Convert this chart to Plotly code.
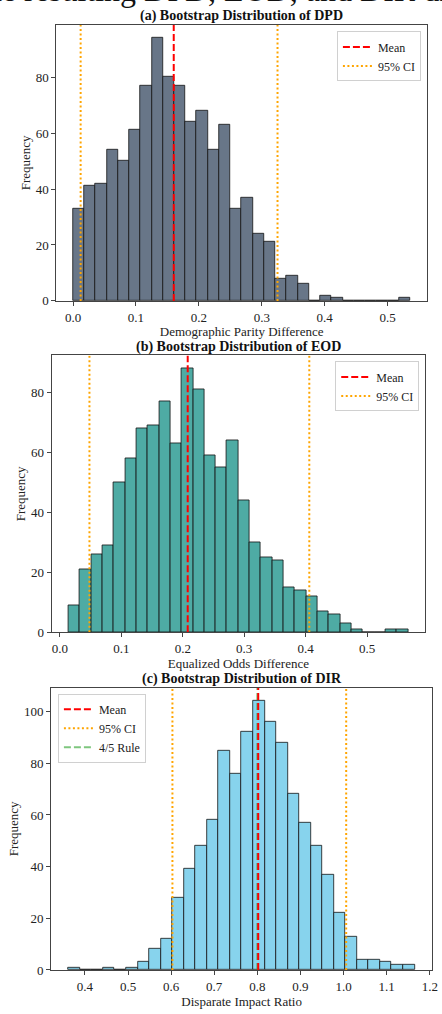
import numpy as np
import plotly.graph_objects as go

W, H = 442, 1014

# ---- Bootstrap histogram data (30 bins each) ----
dpd_counts = [33, 41, 42, 54, 50, 61, 77, 94, 80, 77, 64, 68, 54, 63, 33,
              37, 24, 21, 8, 9, 6, 0, 2, 1, 0, 0, 0, 0, 0, 1]
dpd_range = [0.0, 0.536]
dpd_mean = 0.160
dpd_ci = [0.012, 0.325]

eod_counts = [9, 21, 26, 29, 50, 58, 68, 69, 77, 63, 88, 81, 59, 55, 64,
              44, 30, 25, 24, 15, 14, 12, 7, 6, 3, 1, 0, 0, 1, 1]
eod_range = [0.014, 0.567]
eod_mean = 0.208
eod_ci = [0.048, 0.406]

dir_counts = [1, 0, 0, 1, 0, 1, 3, 8, 12, 28, 39, 48, 58, 85, 76,
              92, 104, 96, 88, 68, 57, 48, 37, 22, 13, 4, 4, 3, 2, 2]
dir_range = [0.362, 1.165]
dir_mean = 0.802
dir_ci = [0.603, 1.006]
four_fifths = 0.8

panels = [
    dict(counts=dpd_counts, rng=dpd_range, mean=dpd_mean, ci=dpd_ci,
         color="#687688", title="(a) Bootstrap Distribution of DPD",
         xlabel="Demographic Parity Difference", rule=None,
         box=(57, 433, 25, 303.3), legend=dict(x=426.7, y=31.7, xanchor="right"),
         xticks=[0.0, 0.1, 0.2, 0.3, 0.4, 0.5], yticks=[0, 20, 40, 60, 80]),
    dict(counts=eod_counts, rng=eod_range, mean=eod_mean, ci=eod_ci,
         color="#4eaba4", title="(b) Bootstrap Distribution of EOD",
         xlabel="Equalized Odds Difference", rule=None,
         box=(52.3, 431, 358.3, 637.3), legend=dict(x=425, y=364.3, xanchor="right"),
         xticks=[0.0, 0.1, 0.2, 0.3, 0.4, 0.5], yticks=[0, 20, 40, 60, 80]),
    dict(counts=dir_counts, rng=dir_range, mean=dir_mean, ci=dir_ci,
         color="#87d3ed", title="(c) Bootstrap Distribution of DIR",
         xlabel="Disparate Impact Ratio", rule=four_fifths,
         box=(51.9, 438, 693.3, 977.7), legend=dict(x=58.7, y=699.3, xanchor="left"),
         xticks=[0.4, 0.5, 0.6, 0.7, 0.8, 0.9, 1.0, 1.1, 1.2],
         yticks=[0, 20, 40, 60, 80, 100]),
]

FONT = "Liberation Serif, Times New Roman, serif"
fig = go.Figure()
layout = dict(
    width=W, height=H, margin=dict(l=0, r=0, t=0, b=0),
    paper_bgcolor="white", plot_bgcolor="white",
    font=dict(family=FONT, size=12, color="#222"),
    bargap=0, showlegend=True, annotations=[],
)

def px_x(v):
    return v / W

def px_y(v):
    return 1 - v / H

for i, p in enumerate(panels):
    n = i + 1
    xa = "x" if n == 1 else f"x{n}"
    ya = "y" if n == 1 else f"y{n}"
    leg = "legend" if n == 1 else f"legend{n}"
    counts = np.array(p["counts"])
    edges = np.linspace(p["rng"][0], p["rng"][1], len(counts) + 1)
    centers = (edges[:-1] + edges[1:]) / 2
    bw = edges[1] - edges[0]
    span = edges[-1] - edges[0]
    xr = [edges[0] - 0.05 * span, edges[-1] + 0.05 * span]
    ytop = counts.max() * 1.05

    fig.add_trace(go.Bar(
        x=centers, y=counts, width=bw, xaxis=xa, yaxis=ya, showlegend=False,
        marker=dict(color=p["color"], line=dict(color="rgba(20,20,20,0.8)", width=1)),
        hoverinfo="skip"))
    if p["rule"] is not None:
        fig.add_trace(go.Scatter(
            x=[p["rule"], p["rule"]], y=[0, ytop], mode="lines", name="4/5 Rule",
            xaxis=xa, yaxis=ya, legend=leg, legendrank=3,
            line=dict(color="rgba(40,160,40,0.6)", width=2, dash="7px,3px")))
    fig.add_trace(go.Scatter(
        x=[p["mean"], p["mean"]], y=[0, ytop], mode="lines", name="Mean",
        xaxis=xa, yaxis=ya, legend=leg, legendrank=1,
        line=dict(color="#ff0000", width=2, dash="7px,3px")))
    for k, c in enumerate(p["ci"]):
        fig.add_trace(go.Scatter(
            x=[c, c], y=[0, ytop], mode="lines", name="95% CI",
            xaxis=xa, yaxis=ya, legend=leg, showlegend=(k == 0), legendrank=2,
            legendgroup=f"ci{n}",
            line=dict(color="#ffa500", width=2, dash="2px,2.5px")))

    x0, x1, y0, y1 = p["box"]
    axis_common = dict(showline=True, mirror=True, linecolor="#444", linewidth=1,
                       ticks="outside", ticklen=4, tickcolor="#444", showgrid=False,
                       zeroline=False, tickfont=dict(size=13, family=FONT),
                       ticklabeloverflow="allow")
    layout[f"xaxis{'' if n == 1 else n}"] = dict(
        domain=[px_x(x0), px_x(x1)], range=xr, anchor=ya,
        tickvals=p["xticks"], tickformat=".1f",
        title=dict(text=p["xlabel"], font=dict(size=13, family=FONT), standoff=3),
        **axis_common)
    layout[f"yaxis{'' if n == 1 else n}"] = dict(
        domain=[px_y(y1), px_y(y0)], range=[0, ytop], anchor=xa,
        tickvals=p["yticks"],
        title=dict(text="Frequency", font=dict(size=13, family=FONT), standoff=2),
        **axis_common)
    lg = p["legend"]
    layout[leg] = dict(
        x=px_x(lg["x"]), y=px_y(lg["y"]), xanchor=lg["xanchor"], yanchor="top",
        bgcolor="rgba(255,255,255,0.85)", bordercolor="#d0d0d0", borderwidth=1,
        font=dict(size=12, family=FONT), itemwidth=30, tracegroupgap=0,
        traceorder="normal")
    layout["annotations"].append(dict(
        text=f"<b>{p['title']}</b>", xref="paper", yref="paper",
        x=px_x((x0 + x1) / 2), y=px_y(y0 - 9.0), xanchor="center", yanchor="middle",
        showarrow=False, font=dict(size=14, family=FONT, color="#111")))

# figure caption line running above the panels
layout["annotations"].append(dict(
    text="the resulting DPD, EOD, and DIR distributions", xref="paper", yref="paper",
    x=px_x(-25), y=px_y(-10), xanchor="left", yanchor="middle", showarrow=False,
    font=dict(size=32, family=FONT, color="#111")))

fig.update_layout(**layout)
fig.write_html("out.html")
